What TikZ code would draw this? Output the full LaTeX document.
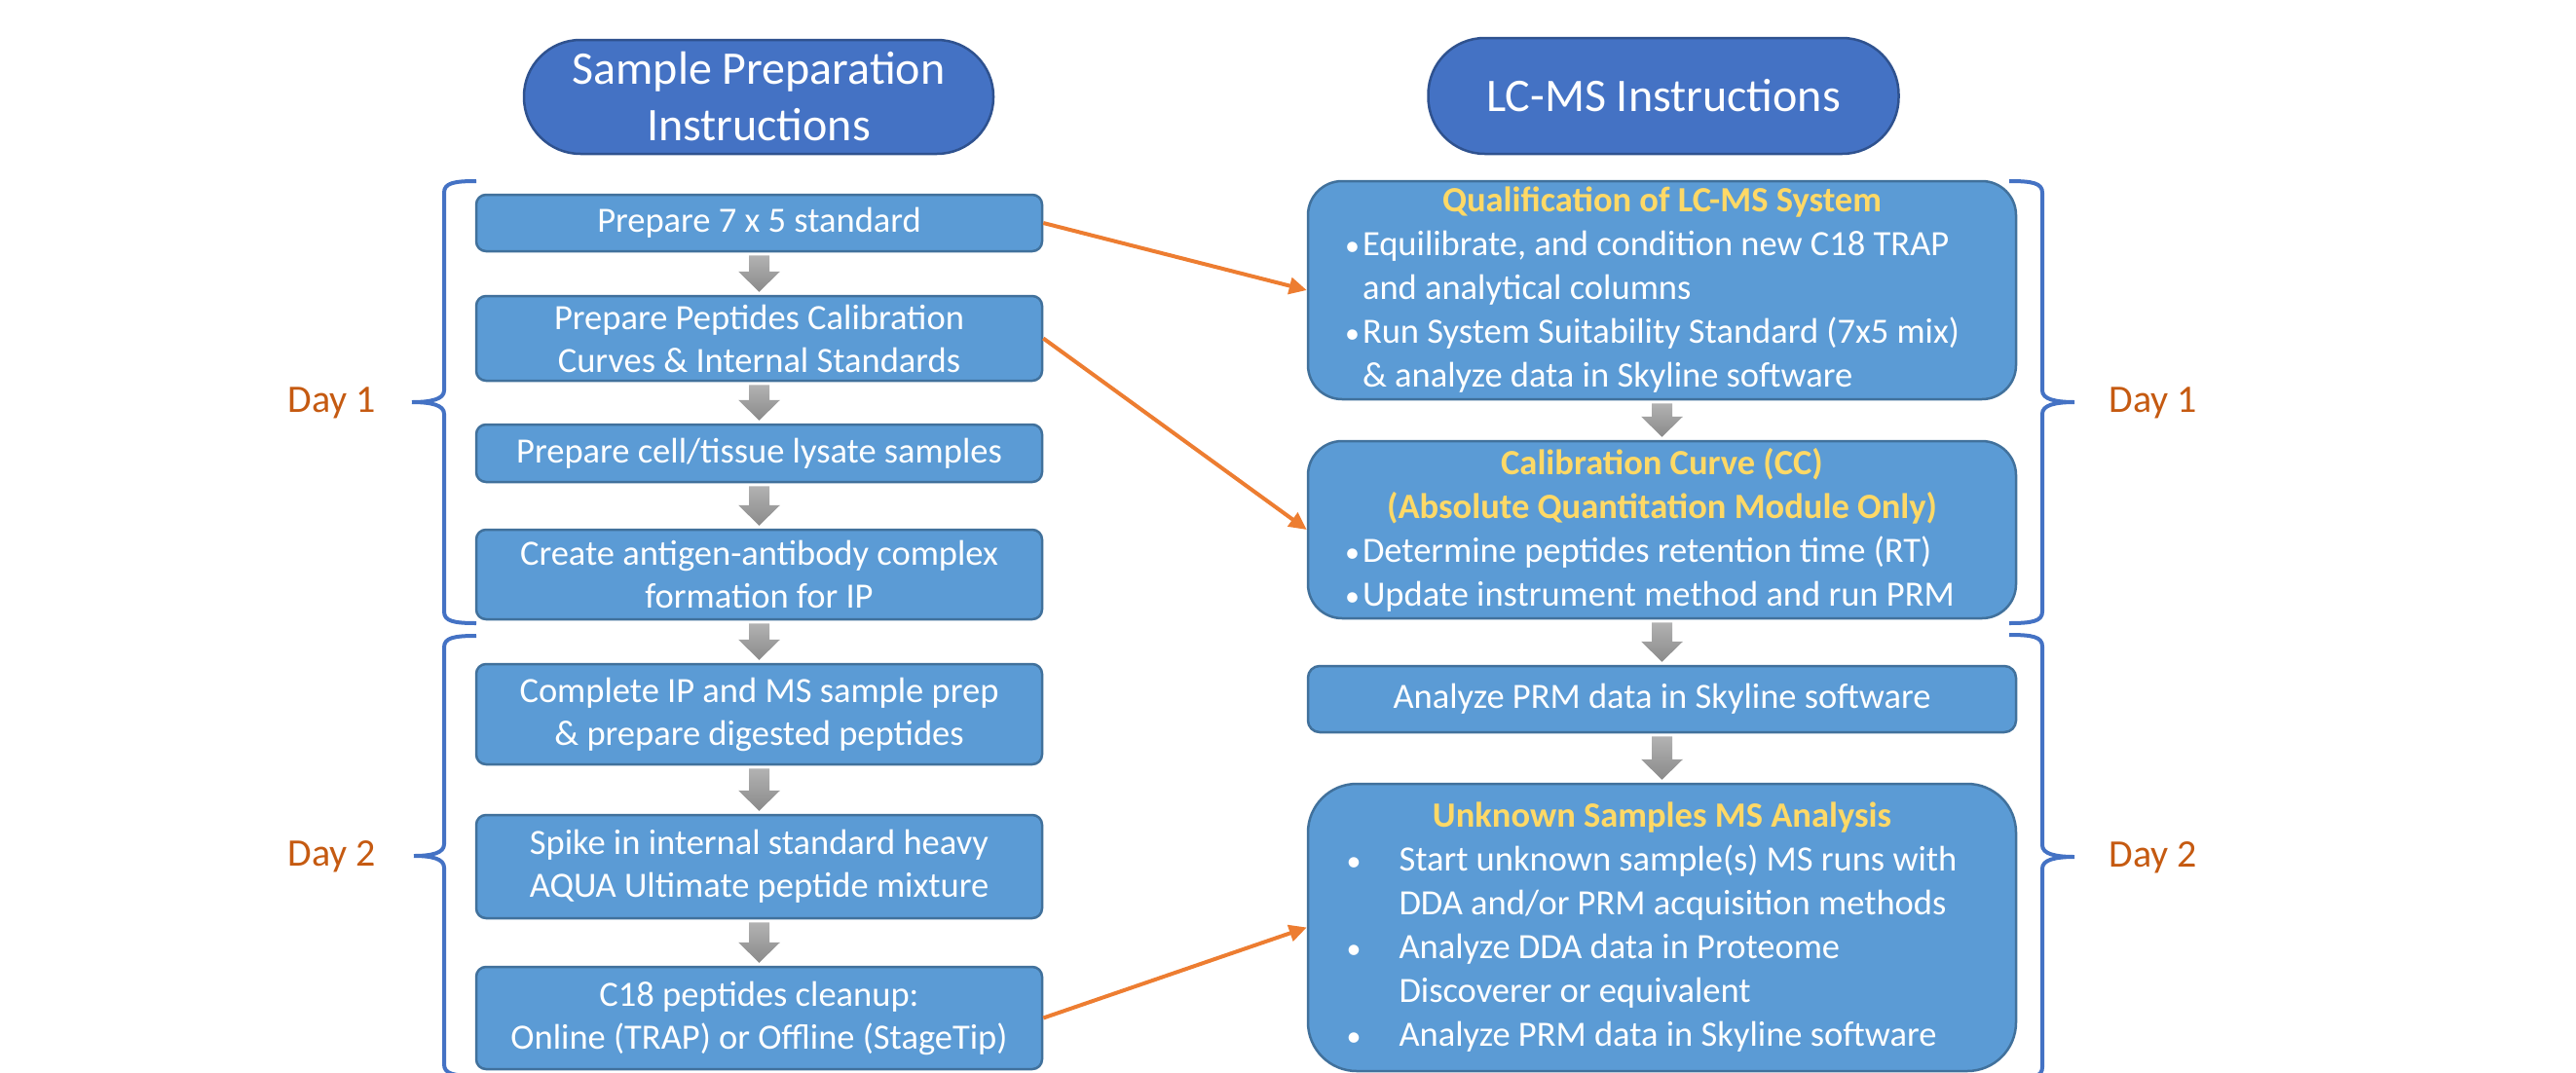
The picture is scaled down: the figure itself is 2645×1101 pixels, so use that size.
\documentclass[tikz,border=0pt]{standalone}
\usepackage{fontspec}
\setmainfont{Carlito}
\usetikzlibrary{arrows.meta,calc}

\definecolor{pillfill}{HTML}{4472C4}
\definecolor{pillline}{HTML}{2F528F}
\definecolor{boxfill}{HTML}{5B9BD5}
\definecolor{boxline}{HTML}{41719C}
\definecolor{headgold}{HTML}{FFD966}
\definecolor{linkorange}{HTML}{ED7D31}
\definecolor{daytext}{HTML}{C55A11}
\definecolor{bracecol}{HTML}{4472C4}
\definecolor{arrowtop}{HTML}{B2B2B2}
\definecolor{arrowbot}{HTML}{8A8A8A}

% bullet paragraph with a hanging indent
\newcommand\bitem[2][19pt]{\par\hangindent=#1\hangafter=1\noindent
  \makebox[#1][l]{\hspace{1pt}{\fontsize{30}{30}\selectfont\textbullet}}#2}

% grey block arrow from the bottom of one step to the top of the next
\newcommand\flowarrow[2]{%
  \path[top color=arrowtop, bottom color=arrowbot] let \p1=(#1.south), \p2=(#2.north) in
    (\x1-10.5pt,\y1-3pt) -- (\x1+10.5pt,\y1-3pt) -- (\x1+10.5pt,\y2+24pt)
    -- (\x1+21.5pt,\y2+24pt) -- (\x1,\y2+3pt) -- (\x1-21.5pt,\y2+24pt)
    -- (\x1-10.5pt,\y2+24pt) -- cycle;}

% curly brace: #1 hook end x, #2 spine x, #3 tip x, #4 top y, #5 tip y, #6 bottom y
\newcommand\daybrace[6]{%
  \draw[bracestyle] (#1,#4) .. controls ({#2+0.3*(#1-#2)},#4) and (#2,{#4+2}) .. (#2,{#4+12})
    -- (#2,{#5-12}) .. controls (#2,{#5-3}) and ({#2+0.4*(#3-#2)},#5) .. (#3,#5)
    (#3,#5) .. controls ({#2+0.4*(#3-#2)},#5) and (#2,{#5+3}) .. (#2,{#5+12})
    -- (#2,{#6-12}) .. controls (#2,{#6-2}) and ({#2+0.3*(#1-#2)},#6) .. (#1,#6);}

\begin{document}
\begin{tikzpicture}[x=1pt,y=-1pt,
  pill/.style={draw=pillline, fill=pillfill, line width=2.5pt, rounded corners=58pt,
    inner sep=0pt, text=white, font=\fontsize{48}{58}\selectfont, align=center},
  stepbox/.style={draw=boxline, fill=boxfill, line width=2.5pt, rounded corners=10pt,
    minimum width=581pt, inner sep=0pt, text=white,
    font=\fontsize{36.5}{44}\selectfont, align=center},
  lcbox/.style={draw=boxline, fill=boxfill, line width=2.5pt, minimum width=727pt,
    inner sep=0pt, text=white, font=\fontsize{36.5}{45}\selectfont},
  link/.style={draw=linkorange, line width=4pt, -{Triangle[length=18pt,width=17pt]}},
  bracestyle/.style={draw=bracecol, line width=4pt},
  daylabel/.style={text=daytext, font=\fontsize{40}{48}\selectfont, anchor=base, inner sep=0pt}]

\useasboundingbox (0,0) rectangle (2645,1101);
\clip (0,0) rectangle (2645,1101);

% column headings
\node[pill, minimum width=482pt, minimum height=117pt] (sp) at (779,99.5)
  {Sample Preparation\\Instructions};
\node[pill, minimum width=483pt, minimum height=119pt] (lc) at (1708,98.5)
  {LC-MS Instructions};

% sample preparation steps
\node[stepbox, minimum height=58pt]  (L1) at (779.5,229)    {Prepare 7 x 5 standard};
\node[stepbox, minimum height=87pt]  (L2) at (779.5,347.5)  {Prepare Peptides Calibration\\Curves \& Internal Standards};
\node[stepbox, minimum height=59pt]  (L3) at (779.5,465.5)  {Prepare cell/tissue lysate samples};
\node[stepbox, minimum height=92pt]  (L4) at (779.5,590)    {Create antigen-antibody complex\\formation for IP};
\node[stepbox, minimum height=103pt] (L5) at (779.5,733.5)  {Complete IP and MS sample prep\\\& prepare digested peptides};
\node[stepbox, minimum height=106pt] (L6) at (779.5,890)    {Spike in internal standard heavy\\AQUA Ultimate peptide mixture};
\node[stepbox, minimum height=105pt] (L7) at (779.5,1045.5) {C18 peptides cleanup:\\Online (TRAP) or Offline (StageTip)};

% LC-MS steps
\node[lcbox, rounded corners=35pt, minimum height=224pt] (Q) at (1706.5,298)
  {\parbox{653pt}{\centering\color{headgold}\bfseries Qualification of LC-MS System\par
   \raggedright\color{white}\mdseries
   \bitem{Equilibrate, and condition new C18 TRAP and analytical columns}
   \bitem{Run System Suitability Standard (7x5 mix) \& analyze data in Skyline software}}};
\node[lcbox, rounded corners=35pt, minimum height=182pt] (C) at (1706.5,544)
  {\parbox{653pt}{\centering\color{headgold}\bfseries Calibration Curve (CC)\\(Absolute Quantitation Module Only)\par
   \raggedright\color{white}\mdseries
   \bitem{Determine peptides retention time (RT)}
   \bitem{Update instrument method and run PRM}}};
\node[lcbox, rounded corners=12pt, minimum height=68pt] (P) at (1706.5,718)
  {Analyze PRM data in Skyline software};
\node[lcbox, rounded corners=50pt, minimum height=295pt] (U) at (1706.5,952.5)
  {\parbox{650pt}{\centering\color{headgold}\bfseries Unknown Samples MS Analysis\par
   \raggedright\color{white}\mdseries
   \bitem[55pt]{Start unknown sample(s) MS runs with DDA and/or PRM acquisition methods}
   \bitem[55pt]{Analyze DDA data in Proteome Discoverer or equivalent}
   \bitem[55pt]{Analyze PRM data in Skyline software}}};

% step arrows
\flowarrow{L1}{L2}
\flowarrow{L2}{L3}
\flowarrow{L3}{L4}
\flowarrow{L4}{L5}
\flowarrow{L5}{L6}
\flowarrow{L6}{L7}
\flowarrow{Q}{C}
\flowarrow{C}{P}
\flowarrow{P}{U}

% hand-over links
\draw[link] (L1.east) -- (Q.west);
\draw[link] (L2.east) -- (C.west);
\draw[link] (L7.east) -- (U.west);

% day braces and labels
\daybrace{489}{456}{423}{186}{413}{640}
\daybrace{489}{456}{425}{653}{879}{1105}
\daybrace{2063}{2097}{2130}{186}{413}{640}
\daybrace{2063}{2097}{2130}{652}{880}{1108}

\node[daylabel] (d1l) at (341,423) {Day 1};
\node[daylabel] (d2l) at (341,889) {Day 2};
\node[daylabel] (d1r) at (2211,423) {Day 1};
\node[daylabel] (d2r) at (2211,890) {Day 2};

\end{tikzpicture}
\end{document}
